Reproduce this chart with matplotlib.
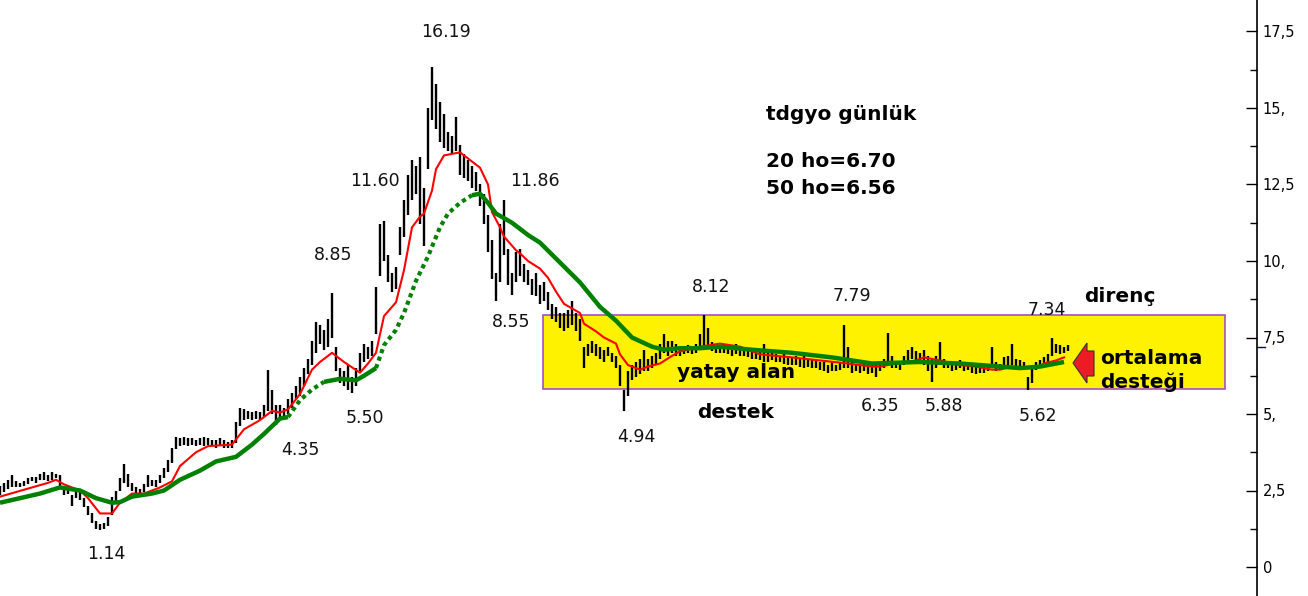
import matplotlib.pyplot as plt
import numpy as np
from matplotlib.patches import Rectangle, Polygon

# daily bars (low / high), one bar per slot
lows = [2.35, 2.45, 2.55, 2.6, 2.6, 2.6, 2.65, 2.7, 2.8, 2.75,
        2.85, 2.85, 2.8, 2.85, 2.9, 2.55, 2.35, 2.4, 2.0, 2.25,
        2.2, 1.95, 1.7, 1.45, 1.25, 1.2, 1.25, 1.35, 1.7, 2.1,
        2.5, 2.75, 2.6, 2.5, 2.4, 2.35, 2.45, 2.6, 2.65, 2.6,
        2.75, 2.9, 3.1, 3.4, 3.85, 3.95, 4.0, 3.95, 4.0, 3.95,
        4.0, 3.95, 4.0, 3.95, 3.9, 3.95, 3.9, 3.9, 3.9, 4.05,
        4.6, 4.8, 4.85, 4.8, 4.85, 4.8, 4.9, 5.1, 5.0, 4.65,
        4.9, 4.85, 5.0, 5.2, 5.5, 5.6, 5.9, 6.3, 6.6, 7.0,
        7.3, 7.1, 7.2, 7.5, 6.4, 6.0, 5.9, 5.8, 5.7, 5.9,
        6.4, 6.7, 6.8, 6.9, 7.6, 9.5, 10.0, 9.3, 9.0, 9.1,
        10.2, 10.8, 11.5, 12.0, 12.2, 11.2, 10.5, 13.0, 14.6, 14.3,
        13.9, 13.7, 13.6, 13.5, 13.6, 12.8, 12.7, 12.6, 12.4, 12.3,
        11.8, 11.2, 10.3, 9.4, 8.7, 9.3, 10.2, 9.2, 8.9, 9.3,
        9.5, 9.3, 9.2, 8.9, 8.85, 8.6, 8.7, 8.4, 8.1, 8.0,
        7.8, 7.7, 7.8, 7.9, 7.7, 7.4, 6.5, 6.9, 7.0, 6.9,
        6.8, 6.7, 6.9, 6.7, 6.5, 5.9, 5.1, 5.6, 6.1, 6.2,
        6.3, 6.4, 6.4, 6.5, 6.6, 6.8, 7.0, 6.9, 7.0, 6.9,
        6.9, 6.95, 7.0, 6.95, 7.0, 7.1, 7.2, 7.2, 7.05, 7.0,
        7.0, 7.0, 6.95, 6.9, 6.95, 6.9, 6.9, 6.85, 6.8, 6.8,
        6.75, 6.7, 6.7, 6.75, 6.7, 6.7, 6.65, 6.6, 6.6, 6.6,
        6.55, 6.5, 6.55, 6.5, 6.5, 6.45, 6.4, 6.35, 6.4, 6.4,
        6.45, 6.5, 6.5, 6.35, 6.4, 6.35, 6.4, 6.3, 6.35, 6.2,
        6.4, 6.5, 6.6, 6.5, 6.5, 6.45, 6.6, 6.7, 6.8, 6.75,
        6.7, 6.6, 6.4, 6.05, 6.5, 6.6, 6.5, 6.5, 6.4, 6.45,
        6.5, 6.4, 6.45, 6.35, 6.3, 6.35, 6.35, 6.4, 6.5, 6.4,
        6.45, 6.5, 6.55, 6.6, 6.5, 6.5, 6.45, 5.8, 6.0, 6.45,
        6.5, 6.6, 6.7, 6.9, 7.0, 6.95, 7.0, 7.05]
highs = [2.65, 2.75, 2.85, 3.0, 2.8, 2.75, 2.8, 2.9, 2.95, 2.95,
         3.05, 3.1, 3.0, 3.1, 3.05, 3.0, 2.6, 2.55, 2.35, 2.5,
         2.45, 2.25, 2.0, 1.75, 1.5, 1.4, 1.45, 1.65, 2.3, 2.5,
         2.9, 3.35, 3.05, 2.75, 2.6, 2.55, 2.7, 3.0, 2.85, 2.85,
         3.0, 3.25, 3.5, 3.9, 4.25, 4.2, 4.25, 4.2, 4.2, 4.15,
         4.2, 4.25, 4.2, 4.15, 4.15, 4.2, 4.15, 4.1, 4.15, 4.75,
         5.2, 5.15, 5.1, 5.05, 5.1, 5.05, 5.3, 6.45, 5.8, 5.3,
         5.3, 5.2, 5.5, 5.7, 5.9, 6.2, 6.5, 6.8, 7.4, 8.0,
         7.9, 7.75, 8.1, 8.95, 7.2, 6.5, 6.4, 6.6, 6.2, 6.5,
         7.0, 7.3, 7.2, 7.4, 9.15, 11.2, 11.3, 10.2, 9.6, 9.8,
         11.1, 12.0, 12.8, 13.3, 13.1, 13.4, 12.4, 15.0, 16.35, 15.8,
         15.2, 14.8, 14.2, 14.1, 14.7, 13.8, 13.5, 13.3, 13.1, 12.9,
         12.5, 12.2, 11.5, 10.7, 9.6, 11.2, 12.0, 10.4, 9.6, 10.3,
         10.4, 9.9, 9.7, 9.4, 9.6, 9.2, 9.3, 9.0, 8.6, 8.5,
         8.3, 8.3, 8.4, 8.7, 8.3, 8.1, 7.2, 7.3, 7.4, 7.3,
         7.2, 7.1, 7.2, 7.0, 6.9, 6.6, 5.8, 6.4, 6.6, 6.7,
         6.8, 7.1, 6.8, 6.9, 7.0, 7.3, 7.6, 7.4, 7.4, 7.3,
         7.2, 7.2, 7.25, 7.2, 7.3, 7.6, 8.25, 7.8, 7.35, 7.3,
         7.25, 7.25, 7.2, 7.2, 7.3, 7.2, 7.1, 7.1, 7.1, 7.0,
         7.1, 7.3, 7.0, 7.0, 6.95, 6.9, 7.1, 6.9, 6.85, 6.9,
         6.8, 6.9, 6.8, 6.75, 6.75, 6.7, 6.7, 6.6, 6.7, 6.6,
         6.7, 7.9, 7.2, 6.7, 6.65, 6.6, 6.65, 6.55, 6.6, 6.6,
         6.7, 6.8, 7.65, 6.9, 6.7, 6.7, 6.9, 7.1, 7.2, 7.05,
         7.0, 7.1, 6.9, 6.8, 6.9, 7.35, 6.8, 6.7, 6.65, 6.7,
         6.75, 6.7, 6.65, 6.6, 6.55, 6.55, 6.6, 6.65, 7.2, 6.7,
         6.65, 6.85, 6.9, 7.3, 6.8, 6.75, 6.7, 6.2, 6.6, 6.7,
         6.75, 6.85, 6.95, 7.5, 7.3, 7.25, 7.2, 7.25]

# 20 day average (bar slot, value)
ma20_x = [0, 8, 12, 14, 16, 20, 22, 25, 28, 30, 33, 36, 40, 43, 45, 49, 52, 58,
          61, 65, 68, 70, 72, 75, 78, 80, 83, 86, 90, 92, 94, 96, 99, 101, 103,
          105, 106, 108, 109, 111, 113, 115, 118, 120, 122, 123, 125, 126, 129,
          130, 132, 135, 137, 139, 141, 143, 145, 146, 149, 151, 154, 155, 157,
          160, 162, 165, 168, 170, 172, 175, 180, 185, 190, 198, 205, 212, 218,
          220, 224, 229, 231, 235, 240, 244, 248, 250, 253, 256, 259, 261, 264, 266]
ma20_y = [2.3, 2.6, 2.75, 2.85, 2.7, 2.5, 2.25, 1.75, 1.75, 2.1, 2.4, 2.4, 2.6, 2.8,
          3.3, 3.75, 3.95, 4.0, 4.5, 4.8, 5.1, 5.05, 5.15, 5.65, 6.45, 6.7, 7.0,
          6.7, 6.35, 6.65, 7.0, 8.2, 8.65, 9.7, 11.1, 11.45, 11.55, 12.3, 13.0,
          13.45, 13.5, 13.55, 13.25, 13.05, 12.5, 11.6, 11.1, 10.8, 10.35, 10.25,
          10.0, 9.75, 9.45, 9.0, 8.6, 8.45, 8.3, 7.95, 7.7, 7.5, 7.3, 6.95, 6.6,
          6.45, 6.55, 6.65, 6.9, 7.05, 7.1, 7.2, 7.3, 7.2, 6.95, 6.85, 6.75, 6.65,
          6.55, 6.55, 6.65, 6.75, 6.85, 6.75, 6.6, 6.55, 6.45, 6.45, 6.55, 6.5,
          6.5, 6.65, 6.75, 6.85]

# 50 day average (bar slot, value)
ma50_x = [0, 5, 10, 15, 20, 24, 28, 30, 33, 38, 41, 45, 50, 54, 59, 63, 66, 70,
          72, 75, 78, 81, 85, 89, 91, 94, 96, 99, 101, 104, 107, 110, 112, 115,
          118, 120, 122, 124, 128, 132, 135, 140, 145, 150, 154, 158, 163, 166,
          170, 175, 180, 188, 198, 208, 218, 230, 240, 250, 255, 260, 266]
ma50_y = [2.1, 2.25, 2.4, 2.6, 2.5, 2.25, 2.1, 2.12, 2.3, 2.4, 2.5, 2.85, 3.15,
          3.45, 3.6, 4.0, 4.35, 4.85, 4.9, 5.45, 5.8, 6.05, 6.15, 6.1, 6.25, 6.5,
          7.25, 7.75, 8.3, 9.35, 10.15, 11.1, 11.55, 11.9, 12.15, 12.2, 11.9,
          11.55, 11.25, 10.85, 10.6, 9.95, 9.3, 8.5, 8.05, 7.5, 7.2, 7.1, 7.15,
          7.15, 7.2, 7.1, 7.0, 6.85, 6.65, 6.7, 6.65, 6.55, 6.5, 6.55, 6.7]

price_labels = ['16.19', '11.60', '11.86', '8.85', '8.55', '5.50', '4.35', '1.14',
                '4.94', '8.12', '7.79', '6.35', '5.88', '5.62', '7.34']
label_px = [(446, 32), (375, 181), (535, 181), (333, 255), (511, 322), (365, 418),
            (300, 450), (106, 554), (636, 437), (711, 287), (852, 296), (880, 406),
            (944, 406), (1038, 416), (1047, 310)]

yticks = [0, 2.5, 5, 7.5, 10, 12.5, 15, 17.5]
ytick_labels = ['0', '2,5', '5,', '7,5', '10,', '12,5', '15,', '17,5']


def px(x, y):
    # picture pixel -> data coordinates
    return x / 4.0, (567 - y) / 30.6


fig = plt.figure(figsize=(13.08, 5.96), dpi=100)
ax = fig.add_axes([0, 0, 1257 / 1308, 1])
ax.set_xlim(0, 1257 / 4.0)
ax.set_ylim(-29 / 30.6, 567 / 30.6)

x0, y0 = px(543, 389)
x1, y1 = px(1225, 315)
ax.add_patch(Rectangle((x0, y0), x1 - x0, y1 - y0, facecolor='#fff200',
                       edgecolor='#a64fc4', linewidth=1.2, zorder=1))

bx = np.arange(len(highs))
ax.vlines(bx, lows, highs, color='black', linewidth=1.7, zorder=2)

ax.plot(ma20_x, ma20_y, color='#ff0000', linewidth=1.5, zorder=3)

ma50_x = np.array(ma50_x)
ma50_y = np.array(ma50_y)
for a, b, dotted in [(0, 72, False), (72, 81, True), (81, 94, False),
                     (94, 118, True), (118, 266, False)]:
    m = (ma50_x >= a) & (ma50_x <= b)
    if dotted:
        ax.plot(ma50_x[m], ma50_y[m], color='#008000', linewidth=3,
                linestyle=(0, (1, 0.9)), dash_capstyle='butt', zorder=4)
    else:
        ax.plot(ma50_x[m], ma50_y[m], color='#008000', linewidth=3.2,
                solid_capstyle='butt', zorder=4)

for lab, (lx, ly) in zip(price_labels, label_px):
    ax.text(*px(lx, ly), lab, fontsize=12.5, ha='center', va='center',
            color='#111111', zorder=6)

bold = dict(fontsize=14.5, fontweight='bold', color='black', zorder=6)
ax.text(*px(766, 115), 'tdgyo günlük', ha='left', va='center', **bold)
ax.text(*px(766, 162), '20 ho=6.70', ha='left', va='center', **bold)
ax.text(*px(766, 188), '50 ho=6.56', ha='left', va='center', **bold)
ax.text(*px(1120, 297), 'direnç', ha='center', va='center', **bold)
ax.text(*px(736, 373), 'yatay alan', ha='center', va='center', **bold)
ax.text(*px(736, 412), 'destek', ha='center', va='center', **bold)
ax.text(*px(1100, 358), 'ortalama', ha='left', va='center', **bold)
ax.text(*px(1100, 382), 'desteği', ha='left', va='center', **bold)

arrow = [px(1073, 363), px(1087, 343), px(1087, 351), px(1094, 351),
         px(1094, 376), px(1087, 376), px(1087, 383)]
ax.add_patch(Polygon(arrow, closed=True, facecolor='#ed1c24',
                     edgecolor='#333333', linewidth=0.8, zorder=5))

for s in ['top', 'left', 'bottom']:
    ax.spines[s].set_visible(False)
ax.spines['right'].set_linewidth(1.2)
ax.yaxis.tick_right()
ax.set_yticks(yticks)
ax.set_yticklabels(ytick_labels)
ax.set_yticks(np.arange(1.25, 18.5, 2.5), minor=True)
ax.tick_params(axis='y', which='major', direction='in', length=8, width=1,
               labelsize=10.5, pad=4)
ax.tick_params(axis='y', which='minor', direction='in', length=5, width=1)
ax.set_xticks([])
ax.plot([1.0, 1.006], [7.2, 7.2], color='#000080', linewidth=1,
        transform=ax.get_yaxis_transform(), clip_on=False)

fig.savefig('out.png', dpi=100)
